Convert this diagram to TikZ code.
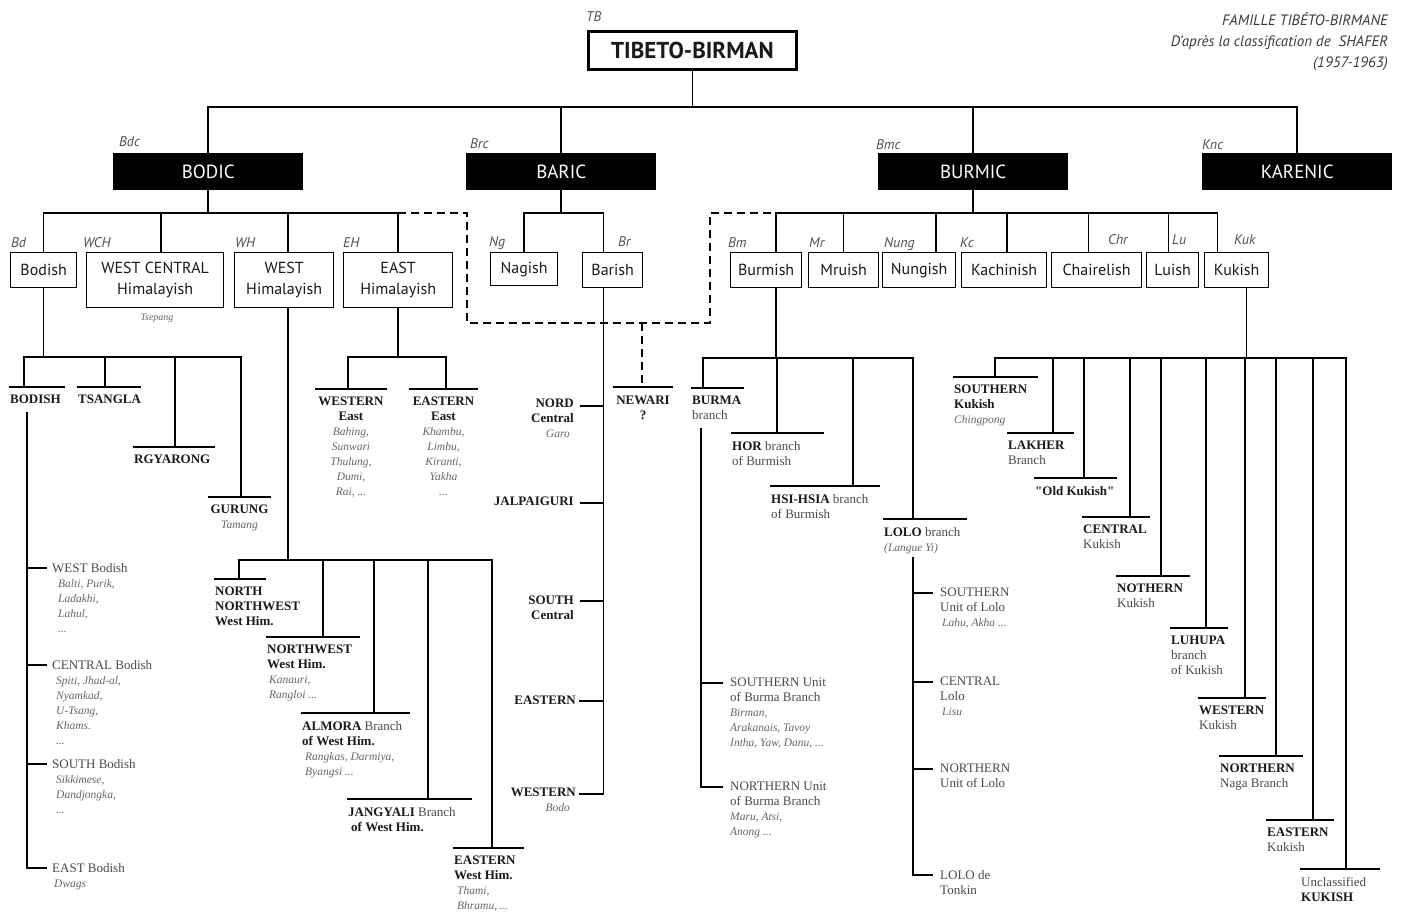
\documentclass[tikz,border=0pt]{standalone}
\usepackage{fontspec}
\setmainfont{Liberation Serif}
\setsansfont{PT Sans}
\newfontfamily\tbraw{Liberation Serif}[Ligatures=TeXOff]
\definecolor{tbk}{HTML}{1A1A1A}
\definecolor{tgr}{HTML}{4A4A4A}
\definecolor{tgi}{HTML}{666666}
\definecolor{tagc}{HTML}{505050}
\definecolor{hdrc}{HTML}{3A3A3A}
\newcommand\tbB[1]{\textbf{#1}}
\newcommand\tbG[1]{{\color{tgr}#1}}
\newcommand\tbI[1]{{\fontsize{11.5}{15}\selectfont\itshape\color{tgi}#1}}
% leaf under a bar: name, x1, x2, bar y, drop x, text
\newcommand\tbleaf[6]{%
  \coordinate (#1-a) at (#2,#4);
  \coordinate (#1-b) at (#3,#4);
  \coordinate (#1-d) at (#5,#4);
  \draw[tbline] (#1-a) -- (#1-b);
  \node[lbl] (#1) at (#2,#4+8) {#6};}
\newcommand\tbleafc[6]{%
  \coordinate (#1-a) at (#2,#4);
  \coordinate (#1-b) at (#3,#4);
  \coordinate (#1-d) at (#5,#4);
  \draw[tbline] (#1-a) -- (#1-b);
  \node[lblc] (#1) at ({(#2+#3)/2},#4+8) {#6};}
% leaf on a comb: name, tick end x, y, text x, text
\newcommand\tbcleaf[5]{%
  \coordinate (#1-t) at (#2,#3);
  \node[lbl] (#1) at (#4,#3-5) {#5};}
\begin{document}
\begin{tikzpicture}[x=1pt,y=-1pt,
  tbline/.style={line width=1.5pt, draw=black, line cap=rect},
  dashline/.style={dash pattern=on 8pt off 5pt, line cap=butt},
  tbbox/.style={draw=black, line width=1.3pt, inner sep=0pt, anchor=north west, align=center,
     font=\sffamily\fontsize{16}{21}\selectfont, text=tbk},
  blk/.style={fill=black, text=white, inner sep=0pt, anchor=north west, minimum width=190pt,
     minimum height=37pt, font=\sffamily\fontsize{19}{19}\selectfont},
  tbtag/.style={anchor=base west, inner sep=0pt, font=\sffamily\itshape\fontsize{14}{14}\selectfont, text=tagc},
  lbl/.style={anchor=north west, inner sep=0pt, align=left, font=\rmfamily\fontsize{13}{15}\selectfont, text=tbk},
  lblc/.style={lbl, anchor=north, align=center},
  lblr/.style={lbl, anchor=north east, align=right}]
\useasboundingbox (0,0) rectangle (1403,911);
\fill[white] (0,0) rectangle (1403,911);

% ---------- header ----------
\node[tbtag] (tTB) at (586,21) {TB};
\node[tbbox, line width=2.8pt, minimum width=208pt, minimum height=38pt,
      font=\sffamily\bfseries\fontsize{23}{23}\selectfont] (tb) at (587,30) {TIBETO-BIRMAN};
\node[anchor=north east, inner sep=0pt, align=right, font=\sffamily\itshape\fontsize{15}{21}\selectfont, text=hdrc]
  (hdr) at (1388,12) {FAMILLE TIBÉTO-BIRMANE\\D'après la classification de~~SHAFER\\(1957-1963)};

% ---------- level 1 ----------
\node[blk] (bodic) at (113,153) {BODIC};
\node[blk] (baric) at (466,153) {BARIC};
\node[blk] (burmic) at (878,153) {BURMIC};
\node[blk] (karenic) at (1202,153) {KARENIC};
\node[tbtag] (tBdc) at (119,146) {Bdc};
\node[tbtag] (tBrc) at (470,148) {Brc};
\node[tbtag] (tBmc) at (876,149) {Bmc};
\node[tbtag] (tKnc) at (1202,149) {Knc};

\coordinate (bus0) at (0,107);
\draw[tbline] (tb.south) -- (tb.south |- bus0);
\draw[tbline] (bodic.north |- bus0) -- (karenic.north |- bus0);
\foreach \n in {bodic,baric,burmic,karenic}{\draw[tbline] (\n.north |- bus0) -- (\n.north);}

% ---------- level 2 ----------
\node[tbbox, minimum width=66pt, minimum height=35pt] (bodish) at (10,252) {Bodish};
\node[tbbox, minimum width=137pt, minimum height=55pt] (wch) at (86,252) {WEST CENTRAL\\Himalayish};
\node[tbbox, minimum width=99pt, minimum height=55pt] (wh) at (234,252) {WEST\\Himalayish};
\node[tbbox, minimum width=109pt, minimum height=55pt] (eh) at (343,252) {EAST\\Himalayish};
\node[tbbox, minimum width=67pt, minimum height=33pt] (nagish) at (490,252) {Nagish};
\node[tbbox, minimum width=60pt, minimum height=35pt] (barish) at (582,252) {Barish};
\node[tbbox, minimum width=71pt, minimum height=35pt] (burmish) at (730,252) {Burmish};
\node[tbbox, minimum width=70pt, minimum height=35pt] (mruish) at (808,252) {Mruish};
\node[tbbox, minimum width=73pt, minimum height=35pt] (nungish) at (882,252) {Nungish};
\node[tbbox, minimum width=85pt, minimum height=35pt] (kachinish) at (961,252) {Kachinish};
\node[tbbox, minimum width=90pt, minimum height=35pt] (chairelish) at (1051,252) {Chairelish};
\node[tbbox, minimum width=52pt, minimum height=35pt] (luish) at (1146,252) {Luish};
\node[tbbox, minimum width=64pt, minimum height=35pt] (kukish) at (1204,252) {Kukish};

\node[tbtag] (tBd) at (11,247) {Bd};
\node[tbtag] (tWCH) at (83,247) {WCH};
\node[tbtag] (tWH) at (235,247) {WH};
\node[tbtag] (tEH) at (343,247) {EH};
\node[tbtag] (tNg) at (489,246) {Ng};
\node[tbtag] (tBr) at (618,246) {Br};
\node[tbtag] (tBm) at (728,247) {Bm};
\node[tbtag] (tMr) at (809,247) {Mr};
\node[tbtag] (tNung) at (884,247) {Nung};
\node[tbtag] (tKc) at (960,247) {Kc};
\node[tbtag] (tChr) at (1108,244) {Chr};
\node[tbtag] (tLu) at (1172,244) {Lu};
\node[tbtag] (tKuk) at (1234,244) {Kuk};
\node[lblc] (tsep) at (157,314) {\tbI{\fontsize{10}{10}\selectfont Tsepang}};

\coordinate (bus1) at (0,213);
% Bodic
\draw[tbline] (bodic.south) -- (bodic.south |- bus1);
\draw[tbline] (bodish.north |- bus1) -- (eh.north |- bus1);
\draw[tbline] (bodish.north |- bus1) -- (bodish.north);
\draw[tbline] ([xshift=6pt]wch.north |- bus1) -- ([xshift=6pt]wch.north);
\draw[tbline] ([xshift=4pt]wh.north |- bus1) -- ([xshift=4pt]wh.north);
\draw[tbline] (eh.north |- bus1) -- (eh.north);
% Baric
\draw[tbline] (baric.south) -- (baric.south |- bus1);
\draw[tbline] (nagish.north |- bus1) -- ([xshift=-9pt]barish.north |- bus1);
\draw[tbline] (nagish.north |- bus1) -- (nagish.north);
\draw[tbline] ([xshift=-9pt]barish.north |- bus1) -- ([xshift=-9pt]barish.north);
% Burmic
\draw[tbline] (burmic.south) -- (burmic.south |- bus1);
\draw[tbline] ([xshift=10pt]burmish.north |- bus1) -- ([xshift=-19pt]kukish.north |- bus1);
\draw[tbline] ([xshift=10pt]burmish.north |- bus1) -- ([xshift=10pt]burmish.north);
\draw[tbline] (mruish.north |- bus1) -- (mruish.north);
\draw[tbline] ([xshift=17pt]nungish.north |- bus1) -- ([xshift=17pt]nungish.north);
\draw[tbline] ([xshift=3pt]kachinish.north |- bus1) -- ([xshift=3pt]kachinish.north);
\draw[tbline] ([xshift=-8pt]chairelish.north |- bus1) -- ([xshift=-8pt]chairelish.north);
\draw[tbline] ([xshift=-4pt]luish.north |- bus1) -- ([xshift=-4pt]luish.north);
\draw[tbline] ([xshift=-19pt]kukish.north |- bus1) -- ([xshift=-19pt]kukish.north);
% dashed link
\coordinate (dA) at (467,213);
\coordinate (dB) at (467,323);
\coordinate (dC) at (710,323);
\coordinate (dD) at (710,213);
\coordinate (dX) at (642,323);
\draw[tbline,dashline] (eh.north |- bus1) -- (dA) -- (dB) -- (dC) -- (dD) -- ([xshift=10pt]burmish.north |- bus1);

% ---------- Bodish subtree ----------
\coordinate (bdbus) at (0,357);
\draw[tbline] (bodish.south) -- (bodish.south |- bdbus);
\tbleaf{bodishL}{10}{64}{387}{24}{\tbB{BODISH}}
\tbleaf{tsangla}{78}{140}{387}{105}{\tbB{TSANGLA}}
\tbleaf{rgyarong}{134}{214}{447}{175}{\tbB{RGYARONG}}
\tbleafc{gurung}{209}{270}{497}{241}{\tbB{GURUNG}\\\tbI{Tamang}}
\draw[tbline] (bodishL-d |- bdbus) -- (gurung-d |- bdbus);
\foreach \n in {bodishL,tsangla,rgyarong,gurung}{\draw[tbline] (\n-d |- bdbus) -- (\n-d);}

\coordinate (bcv) at (27,413);
\tbcleaf{wbod}{46}{568}{52}{\tbG{WEST Bodish}\\\tbI{\hspace*{6pt}Balti, Purik,}\\\tbI{\hspace*{6pt}Ladakhi,}\\\tbI{\hspace*{6pt}Lahul,}\\\tbI{\hspace*{6pt}...}}
\tbcleaf{cbod}{46}{665}{52}{\tbG{CENTRAL Bodish}\\\tbI{\hspace*{4pt}Spiti, Jhad-al,}\\\tbI{\hspace*{4pt}Nyamkad,}\\\tbI{\hspace*{4pt}U-Tsang,}\\\tbI{\hspace*{4pt}Khams.}\\\tbI{\hspace*{4pt}...}}
\tbcleaf{sbod}{46}{764}{52}{\tbG{SOUTH Bodish}\\\tbI{\hspace*{4pt}Sikkimese,}\\\tbI{\hspace*{4pt}Dandjongka,}\\\tbI{\hspace*{4pt}...}}
\tbcleaf{ebod}{46}{868}{52}{\tbG{EAST Bodish}\\\tbI{\hspace*{2pt}Dwags}}
\draw[tbline] (bcv) -- (bcv |- ebod-t) -- (ebod-t);
\foreach \n in {wbod,cbod,sbod}{\draw[tbline] (bcv |- \n-t) -- (\n-t);}

% ---------- West Himalayish subtree ----------
\coordinate (whbus) at (0,560);
\draw[tbline] ([xshift=4pt]wh.south) -- ([xshift=4pt]wh.south |- whbus);
\tbleaf{nnw}{215}{265}{579}{239}{\tbB{NORTH}\\\tbB{NORTHWEST}\\\tbB{West Him.}}
\tbleaf{nw}{267}{359}{637}{323}{\tbB{NORTHWEST}\\\tbB{West Him.}\\\tbI{\hspace*{2pt}Kanauri,}\\\tbI{\hspace*{2pt}Rangloi ...}}
\tbleaf{alm}{302}{409}{713}{374}{\tbB{ALMORA} \tbG{Branch}\\\tbB{of West Him.}\\\tbI{\hspace*{3pt}Rangkas, Darmiya,}\\\tbI{\hspace*{3pt}Byangsi ...}}
\tbleaf{jang}{348}{471}{799}{428}{\tbB{JANGYALI} \tbG{Branch}\\\tbB{\hspace*{3pt}of West Him.}}
\tbleaf{ewh}{454}{523}{848}{492}{\tbB{EASTERN}\\\tbB{West Him.}\\\tbI{\hspace*{3pt}Thami,}\\\tbI{\hspace*{3pt}Bhramu, ...}}
\draw[tbline] (nnw-d |- whbus) -- (ewh-d |- whbus);
\foreach \n in {nnw,nw,alm,jang,ewh}{\draw[tbline] (\n-d |- whbus) -- (\n-d);}

% ---------- East Himalayish subtree ----------
\coordinate (ehbus) at (0,357);
\draw[tbline] (eh.south) -- (eh.south |- ehbus);
\tbleafc{weh}{316}{386}{389}{348}{\tbB{WESTERN}\\\tbB{East}\\\tbI{Bahing,}\\\tbI{Sunwari}\\\tbI{Thulung,}\\\tbI{Dumi,}\\\tbI{Rai, ...}}
\tbleafc{eeh}{410}{477}{389}{446}{\tbB{EASTERN}\\\tbB{East}\\\tbI{Khambu,}\\\tbI{Limbu,}\\\tbI{Kiranti,}\\\tbI{Yakha}\\\tbI{...}}
\draw[tbline] (weh-d |- ehbus) -- (eeh-d |- ehbus);
\foreach \n in {weh,eeh}{\draw[tbline] (\n-d |- ehbus) -- (\n-d);}

% ---------- Barish subtree ----------
\coordinate (brv) at ([xshift=-9pt]barish.south);
\coordinate (nord-t) at (581,406);
\coordinate (jal-t) at (581,503);
\coordinate (sou-t) at (581,601);
\coordinate (eas-t) at (580,701);
\coordinate (wes-t) at (580,794);
\node[lblr] (nord) at (574,399) {\tbB{NORD}\\\tbB{Central}\\\tbI{Garo\hspace*{4pt}}};
\node[lblr] (jal) at (574,497) {\tbB{JALPAIGURI}};
\node[lblr] (sou) at (574,596) {\tbB{SOUTH}\\\tbB{Central}};
\node[lblr] (eas) at (576,696) {\tbB{EASTERN}};
\node[lblr] (wes) at (576,788) {\tbB{WESTERN}\\\tbI{Bodo\hspace*{6pt}}};
\draw[tbline] (brv) -- (brv |- wes-t) -- (wes-t);
\foreach \n in {nord,jal,sou,eas}{\draw[tbline] (brv |- \n-t) -- (\n-t);}

% Newari
\coordinate (new-a) at (614,387);
\coordinate (new-b) at (672,387);
\draw[tbline] (new-a) -- (new-b);
\node[lblc] (newari) at (643,396) {\tbB{NEWARI}\\\tbB{?}};
\draw[tbline,dashline] (dX) -- (dX |- new-a);

% ---------- Burmish subtree ----------
\coordinate (bmbus) at (0,358);
\draw[tbline] ([xshift=10pt]burmish.south) -- ([xshift=10pt]burmish.south |- bmbus);
\tbleaf{burma}{692}{743}{388}{703}{\tbB{BURMA}\\\tbG{branch}}
\tbleaf{hor}{732}{823}{433}{777}{\tbB{HOR} \tbG{branch}\\\tbG{of Burmish}}
\tbleaf{hsi}{771}{879}{486}{853}{\tbB{HSI-HSIA} \tbG{branch}\\\tbG{of Burmish}}
\tbleaf{lolo}{884}{966}{519}{913}{\tbB{LOLO} \tbG{branch}\\\tbI{(Langue Yi)}}
\draw[tbline] (burma-d |- bmbus) -- (lolo-d |- bmbus);
\foreach \n in {burma,hor,hsi,lolo}{\draw[tbline] (\n-d |- bmbus) -- (\n-d);}

\coordinate (bav) at (701,429);
\tbcleaf{sbu}{722}{683}{730}{\tbG{SOUTHERN Unit}\\\tbG{of Burma Branch}\\\tbI{Birman,}\\\tbI{Arakanais, Tavoy}\\\tbI{Intha, Yaw, Danu, ...}}
\tbcleaf{nbu}{722}{787}{730}{\tbG{NORTHERN Unit}\\\tbG{of Burma Branch}\\\tbI{Maru, Atsi,}\\\tbI{Anong ...}}
\draw[tbline] (bav) -- (bav |- nbu-t) -- (nbu-t);
\draw[tbline] (bav |- sbu-t) -- (sbu-t);

\coordinate (lov) at (913,558);
\tbcleaf{slo}{932}{593}{940}{\tbG{SOUTHERN}\\\tbG{Unit of Lolo}\\\tbI{\hspace*{2pt}Lahu, Akha ...}}
\tbcleaf{clo}{932}{682}{940}{\tbG{CENTRAL}\\\tbG{Lolo}\\\tbI{\hspace*{2pt}Lisu}}
\tbcleaf{nlo}{932}{769}{940}{\tbG{NORTHERN}\\\tbG{Unit of Lolo}}
\tbcleaf{tlo}{932}{875}{940}{\tbG{LOLO de}\\\tbG{Tonkin}}
\draw[tbline] (lov) -- (lov |- tlo-t) -- (tlo-t);
\foreach \n in {slo,clo,nlo}{\draw[tbline] (lov |- \n-t) -- (\n-t);}

% ---------- Kukish subtree ----------
\coordinate (kkbus) at (0,358);
\draw[tbline] ([xshift=10pt]kukish.south) -- ([xshift=10pt]kukish.south |- kkbus);
\tbleaf{sku}{954}{1037}{377}{995}{\tbB{SOUTHERN}\\\tbB{Kukish}\\\tbI{Chingpong}}
\tbleaf{lak}{1008}{1073}{433}{1053}{\tbB{LAKHER}\\\tbG{Branch}}
\tbleaf{oku}{1035}{1116}{478}{1084}{{\tbraw\bfseries "Old Kukish"}}
\tbleaf{cku}{1083}{1149}{517}{1130}{\tbB{CENTRAL}\\\tbG{Kukish}}
\tbleaf{nku}{1117}{1189}{576}{1161}{\tbB{NOTHERN}\\\tbG{Kukish}}
\tbleaf{luh}{1171}{1227}{628}{1206}{\tbB{LUHUPA}\\\tbG{branch}\\\tbG{of Kukish}}
\tbleaf{wku}{1199}{1265}{698}{1245}{\tbB{WESTERN}\\\tbG{Kukish}}
\tbleaf{nnb}{1220}{1302}{756}{1276}{\tbB{NORTHERN}\\\tbG{Naga Branch}}
\tbleaf{eku}{1267}{1333}{820}{1313}{\tbB{EASTERN}\\\tbG{Kukish}}
\tbleaf{uku}{1301}{1379}{869}{1346}{\tbG{Unclassified}\\\tbB{KUKISH}}
\draw[tbline] (sku-d |- kkbus) -- (uku-d |- kkbus);
\foreach \n in {sku,lak,oku,cku,nku,luh,wku,nnb,eku,uku}{\draw[tbline] (\n-d |- kkbus) -- (\n-d);}
\end{tikzpicture}
\end{document}
